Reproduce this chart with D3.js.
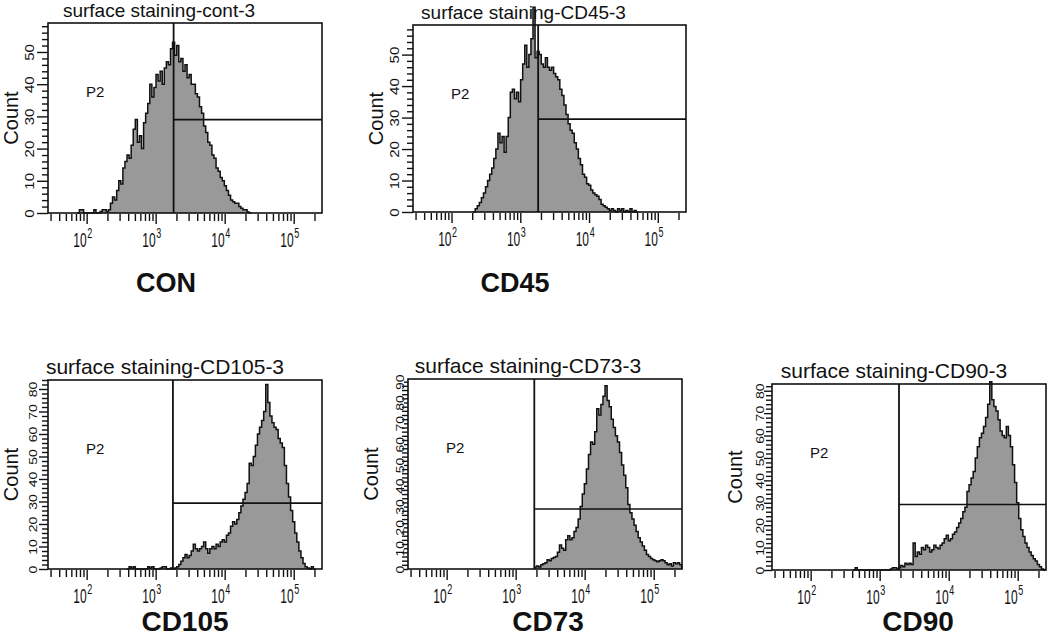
<!DOCTYPE html>
<html><head><meta charset="utf-8">
<script src="https://cdn.jsdelivr.net/npm/d3@7"></script>
<style>
body{margin:0;background:#fff}
svg{display:block}
text{font-family:"Liberation Sans",Arial,Helvetica,sans-serif;fill:#111}
</style>
</head><body>
<svg id="c" width="1050" height="640"></svg>
<script>
// ---------------- DATA ----------------
const panelNames  = ["CON", "CD45", "CD105", "CD73", "CD90"];
const panelTitles = ["surface staining-cont-3", "surface staining-CD45-3", "surface staining-CD105-3",
                     "surface staining-CD73-3", "surface staining-CD90-3"];
const gateName = "P2";
const yAxisTitle = "Count";
// x axis is log10 of fluorescence intensity
const xLogDomain = [1.44, 5.41];
const xTickDecades = [2, 3, 4, 5];
const xTickBase = "10";
const xMinorMultipliers = [2, 3, 4, 5, 6, 7, 8, 9];
const yDomainMax = [59, 59.4, 84, 91.3, 83];
// gate: vertical line (log10 intensity) and horizontal marker (count)
const gateLog   = [3.26, 3.26, 3.25, 3.27, 3.28];
const gateCount = [29, 29.5, 29.3, 28.8, 29.2];
// histogram bins: log10 start of first bin centre, common bin width (decades)
const binStart = [1.88, 2.33, 2.60, 3.29, 2.63];
const binStep = 0.03;

const countsCON = [0,1,1,0,0,0,0,0,1,0,0,0.5,1,1,
  0.5,1,3,5,4,7,10,9,14,16,18,17,21,26,29,22,24,20,28,31,34,40,36,39,43,41,44,40,45,47,46,51,53,49,52,47,48,44,46,42,43,40,40,37,36,33,31,27,25,22,21,18,17,14,13,11,10,8.5,7,5.5,4,3.5,3,3,2,1.5,1,1,0.3,0];
const countsCD45 = [0,1,2,3,4.5,6,8,10,12,14,17,20,25,22,24,19,24,30,38,39,36,38,35,42,47,53,46,50,55,65,49,51,50,47,46,49,46,45,46,44,43,42,39,37,34,31,28,26,25,22,20,17,15,12,11,9,8.5,7,6,5.5,5,4,2.5,2,1.5,1,0.5,1,0.5,0,1,0.5,1,0,0.5,0,1,0,0.5,0];
const countsCD105 = [0,1,0.5,1,0,0,0,0,0,0,1,0.5,1,0,0,0,0.5,1,1,0,0,0.5,
  0,0.5,1,2,3.5,5,6.5,5,6,8,11,9,8,9,10,12,9,7,9,10,9,11,10,12,13,12,15,16,19,21,20,22,25,28,31,34,38,47,46,50,55,60,63,66,70,82,74,68,65,63,62,58,56,54,46,38,32,26,21,16,12,8,5,2.5,1,0.5,0,1,0];
const countsCD73 = [1,1.5,1,2,2.5,3,4.5,4,5,5.5,6,8,11.5,10,9,14,16,14,15,18,20,24,30,36,41,48,55,61,60,66,77,74,79,83,88,81,78,72,68,64,61,56,50,45,39,31,27,24,21,18,15,13,11,9,7,6,5,4.5,4,3.5,4,4.5,4,3,2,2.5,1.5,3,2.5,3,2];
const countsCD90 = [0,1,0,0,0,0,0,0,0,0,0,0,0,0,0,0,0,0,0.5,1,1,0.5,
  1,2,1.5,3,2.5,3,2.5,12,6,8,7,10,9,11,10,8,9,11,10,9.5,11,12,14,15.5,13,14,16,17,19,21,23,26,28,35,38,41,44,50,55,59,61,64,68,74,84,76,73,71,67,62,60,59,64,60,55,47,39,30,23,18,15,12,10,8,6.5,5,4,2.5,1.5,0.5,0];
const panelCounts = [countsCON, countsCD45, countsCD105, countsCD73, countsCD90];

// ---------------- LAYOUT ----------------
const layout = [
  {frame:[48,23,322,213],  titleDx:-26, titleSize:19, labelX:166, labelY:292, labelSize:27, yLabGap:14, yTick:11, yFont:15},
  {frame:[413,25,686,212], titleDx:-26, titleSize:19, labelX:515, labelY:292, labelSize:27, yLabGap:14, yTick:11, yFont:15},
  {frame:[48,380,322,569], titleDx:-20, titleSize:21, labelX:185, labelY:631, labelSize:28, yLabGap:11, yTick:9,  yFont:14},
  {frame:[408,379,682,569],titleDx:-17, titleSize:21, labelX:548, labelY:631, labelSize:28, yLabGap:4,  yTick:4,  yFont:14},
  {frame:[772,384,1046,570],titleDx:-15, titleSize:21, labelX:918, labelY:631, labelSize:28, yLabGap:8,  yTick:8,  yFont:14}
];

const svg = d3.select("#c");

panelNames.forEach((name, i) => {
  const Lo = layout[i];
  const [fx0, fy0, fx1, fy1] = Lo.frame;
  const x = d3.scaleLinear().domain(xLogDomain).range([fx0, fx1]);
  const y = d3.scaleLinear().domain([0, yDomainMax[i]]).range([fy1, fy0]);
  const g = svg.append("g");

  // histogram (step outline)
  const pts = [];
  panelCounts[i].forEach((c, j) => {
    const ctr = binStart[i] + j * binStep;
    pts.push([ctr - binStep / 2, c], [ctr + binStep / 2, c]);
  });
  pts.unshift([pts[0][0], 0]);
  pts.push([pts[pts.length - 1][0], 0]);
  const area = d3.area().x(d => x(d[0])).y0(y(0)).y1(d => y(d[1]));
  const line = d3.line().x(d => x(d[0])).y(d => y(d[1]));
  g.append("path").attr("d", area(pts)).attr("fill", "#999999");
  g.append("path").attr("d", line(pts)).attr("fill", "none")
    .attr("stroke", "#111").attr("stroke-width", 1.5).attr("stroke-linejoin", "miter");

  // frame
  g.append("rect").attr("x", fx0).attr("y", fy0).attr("width", fx1 - fx0).attr("height", fy1 - fy0)
    .attr("fill", "none").attr("stroke", "#111").attr("stroke-width", 1.6);

  // gate
  const gx = x(gateLog[i]);
  g.append("line").attr("x1", gx).attr("x2", gx).attr("y1", fy0).attr("y2", fy1)
    .attr("stroke", "#111").attr("stroke-width", 1.8);
  g.append("line").attr("x1", gx).attr("x2", fx1).attr("y1", y(gateCount[i])).attr("y2", y(gateCount[i]))
    .attr("stroke", "#111").attr("stroke-width", 1.6);

  // x axis ticks
  const majors = xTickDecades.slice();
  const minors = [];
  [1, 2, 3, 4, 5].forEach(d => xMinorMultipliers.forEach(m => {
    const v = d + Math.log10(m);
    if (v > xLogDomain[0] && v < xLogDomain[1]) minors.push(v);
  }));
  const styleAxis = sel => {
    sel.select(".domain").remove();
    sel.selectAll(".tick line").attr("stroke", "#111").attr("stroke-width", 1.4);
  };
  g.append("g").attr("transform", `translate(0,${fy1 + 1})`)
    .call(d3.axisBottom(x).tickValues(majors).tickSize(10).tickFormat(""))
    .call(styleAxis);
  g.append("g").attr("transform", `translate(0,${fy1 + 1})`)
    .call(d3.axisBottom(x).tickValues(minors).tickSize(7).tickFormat(""))
    .call(styleAxis);
  xTickDecades.forEach((d, k) => {
    const lg = g.append("g").attr("transform", `translate(${x(d)},${fy1 + 34}) scale(0.6,1)`);
    lg.append("text").attr("text-anchor", "end").attr("font-size", 20).text(xTickBase);
    lg.append("text").attr("text-anchor", "start").attr("x", 1).attr("y", -9).attr("font-size", 15).text(String(d));
  });

  // y axis
  const yMax = yDomainMax[i];
  const yMajors = d3.range(0, yMax + 1e-9, 10);
  const yMinors = d3.range(0, yMax + 1e-9, 2).filter(v => v % 10 !== 0);
  g.append("g").attr("transform", `translate(${fx0},0)`)
    .call(d3.axisLeft(y).tickValues(yMinors).tickSize(6).tickFormat(""))
    .call(styleAxis);
  const ya = g.append("g").attr("transform", `translate(${fx0},0)`)
    .call(d3.axisLeft(y).tickValues(yMajors).tickSize(Lo.yTick).tickFormat(d3.format("d")))
    .call(styleAxis);
  ya.attr("font-size", null).attr("font-family", null);
  ya.selectAll("text")
    .attr("x", null).attr("dy", null)
    .attr("text-anchor", "middle")
    .style("font-size", Lo.yFont + "px")
    .style("fill", "#111")
    .attr("transform", `translate(${-Lo.yLabGap},0) rotate(-90) scale(1,0.8)`);

  // axis title
  g.append("text")
    .attr("transform", `translate(${fx0 - 30},${(fy0 + fy1) / 2}) rotate(-90)`)
    .attr("text-anchor", "middle").attr("font-size", 20).text(yAxisTitle);

  // panel title
  g.append("text").attr("x", (fx0 + fx1) / 2 + Lo.titleDx).attr("y", fy0 - 6)
    .attr("text-anchor", "middle").attr("font-size", Lo.titleSize).text(panelTitles[i]);

  // gate name
  g.append("text").attr("x", fx0 + 38).attr("y", fy0 + 74).attr("font-size", 15).text(gateName);

  // big label
  g.append("text").attr("x", Lo.labelX).attr("y", Lo.labelY).attr("text-anchor", "middle")
    .attr("font-size", Lo.labelSize).attr("font-weight", "bold").text(name);
});
</script>
</body></html>
